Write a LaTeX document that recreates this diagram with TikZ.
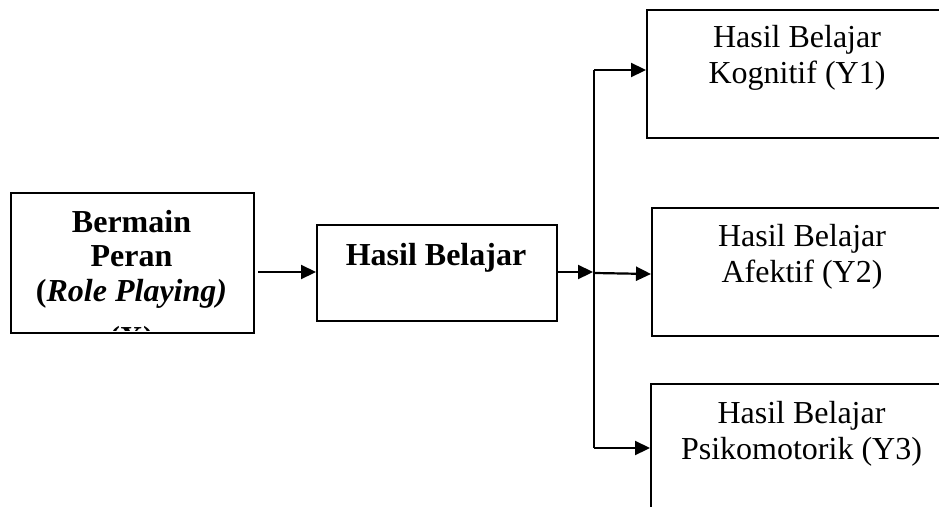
\documentclass[tikz,border=0pt]{standalone}
\usepackage{fontspec}
\setmainfont{Liberation Serif}
\usetikzlibrary{arrows.meta}
\begin{document}
\begin{tikzpicture}[x=1pt,y=-1pt,
  box/.style={draw,line width=2.2pt,inner sep=0pt,anchor=north west},
  txt/.style={font=\fontsize{32}{36}\selectfont,align=center,inner sep=0pt,anchor=north},
  link/.style={line width=2.2pt,-{Triangle[length=15pt,width=14pt]}},
  rail/.style={line width=2.2pt},
]
\useasboundingbox (0,0) rectangle (939,506);
\clip (0,0) rectangle (939,506);

% boxes
\node[box,minimum width=243pt,minimum height=140pt] (x) at (10,192) {};
\node[box,minimum width=240pt,minimum height=96pt] (hb) at (316,224) {};
\node[box,minimum width=296pt,minimum height=128pt] (y1) at (646,9) {};
\node[box,minimum width=291pt,minimum height=128pt] (y2) at (651,207) {};
\node[box,minimum width=292pt,minimum height=140pt] (y3) at (650,383) {};

% texts (first-line baseline = north + strut height)
\begin{scope}
  \clip (11,193) rectangle (252,330.5);
  \node[txt,font=\bfseries\fontsize{32}{34.5}\selectfont] (xt) at (131.5,207.8)
    {\strut Bermain\\Peran\\(\textit{Role Playing)}\\[13pt](X)};
\end{scope}
\node[txt,font=\bfseries\fontsize{32}{36}\selectfont] (hbt) at (436,239.8) {\strut Hasil Belajar};
\node[txt] (y1t) at (797,21.8) {\strut Hasil Belajar\\Kognitif (Y1)};
\node[txt] (y2t) at (802,221.5) {\strut Hasil Belajar\\Afektif (Y2)};
\node[txt] (y3t) at (801.5,397.8) {\strut Hasil Belajar\\Psikomotorik (Y3)};

% branching rail
\coordinate (j)  at (594,272);
\coordinate (jt) at (594,70);
\coordinate (jb) at (594,448);
\coordinate (jm) at (595,273);

\draw[link] ([xshift=3pt]x.east |- j) -- (hb.west |- j);
\draw[link] (hb.east |- j) -- ([xshift=-1pt]j);
\draw[rail] (jt) -- (jb);
\draw[link] (jt) -- (y1.west |- jt);
\draw[link] (jm) -- ([yshift=-1pt]y2.west |- jm);
\draw[link] (jb) -- (y3.west |- jb);
\end{tikzpicture}
\end{document}
